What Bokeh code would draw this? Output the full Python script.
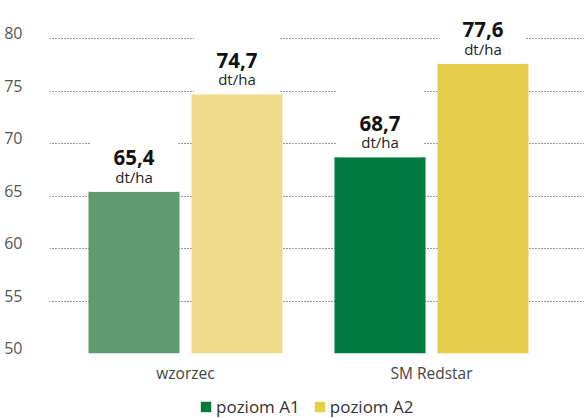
from bokeh.plotting import figure
from bokeh.layouts import column
from bokeh.models import (ColumnDataSource, Range1d, FixedTicker, Legend, LegendItem,
                          LinearAxis)
from bokeh.core.properties import value
from bokeh.embed import file_html
from bokeh.resources import INLINE

categories = ["wzorzec", "SM Redstar"]
series_names = ["poziom A1", "poziom A2"]
a1_values = [65.4, 68.7]
a2_values = [74.7, 77.6]
a1_colors = ["#5E9C6E", "#007B3F"]
a2_colors = ["#EDDB8A", "#E4CE4A"]
legend_colors = [a1_colors[1], a2_colors[1]]
y_ticks = [50, 55, 60, 65, 70, 75, 80]

FONT = "Open Sans"
cat_x = list(range(len(categories)))
offset = 0.2093
bar_w = 0.37
box_w = 0.35
box_h = 6.5
y_start, y_end = 50, 83.62
label_shift = 0.51  # tick labels sit just above their gridline

def fmt(v):
    return f"{v:.1f}".replace(".", ",")

p = figure(width=584, height=386, output_backend="svg", toolbar_location=None,
           x_range=Range1d(-0.5528, 1.622), y_range=Range1d(y_start, y_end),
           min_border_left=49, min_border_right=0, min_border_top=0,
           min_border_bottom=30)
p.outline_line_color = None
p.background_fill_color = "white"
p.border_fill_color = "white"
p.extra_y_ranges = {"lab": Range1d(y_start - label_shift, y_end - label_shift)}

# grid
p.xgrid.grid_line_color = None
p.ygrid.ticker = FixedTicker(ticks=y_ticks)
p.ygrid.grid_line_color = "#333333"
p.ygrid.grid_line_dash = "1 2"
p.ygrid.grid_line_width = 1

# axes
p.yaxis.visible = False
yax = LinearAxis(y_range_name="lab", ticker=FixedTicker(ticks=y_ticks))
yax.axis_line_color = None
yax.major_tick_line_color = None
yax.minor_tick_line_color = None
yax.major_tick_out = 0
yax.major_tick_in = 0
yax.major_label_standoff = 27
yax.major_label_text_font = FONT
yax.major_label_text_font_size = "16px"
yax.major_label_text_color = "#555555"
p.add_layout(yax, "left")

p.xaxis.ticker = FixedTicker(ticks=cat_x)
p.xaxis.major_label_overrides = {i: c for i, c in enumerate(categories)}
p.xaxis.axis_line_color = None
p.xaxis.major_tick_line_color = None
p.xaxis.minor_tick_line_color = None
p.xaxis.major_tick_out = 0
p.xaxis.major_tick_in = 0
p.xaxis.major_label_standoff = 8
p.xaxis.major_label_text_font = FONT
p.xaxis.major_label_text_font_size = "15.5px"
p.xaxis.major_label_text_color = "#444444"

for vals, cols, sign in [(a1_values, a1_colors, -1), (a2_values, a2_colors, 1)]:
    xs = [x + sign * offset for x in cat_x]
    src = ColumnDataSource(dict(
        x=xs, top=vals, color=cols,
        box_top=[v + box_h for v in vals],
        lab=[fmt(v) for v in vals], unit=["dt/ha"] * len(vals)))
    p.vbar(x="x", top="top", bottom=y_start, width=bar_w, fill_color="color",
           line_color=None, source=src)
    p.vbar(x="x", top="box_top", bottom="top", width=box_w, fill_color="white",
           line_color=None, source=src)
    p.text(x="x", y="top", text="lab", source=src, y_offset=-34,
           text_align="center", text_baseline="alphabetic",
           text_font=value(FONT), text_font_size="20.5px", text_font_style="bold",
           text_color="#111111")
    p.text(x="x", y="top", text="unit", source=src, y_offset=-15,
           text_align="center", text_baseline="alphabetic",
           text_font=value(FONT), text_font_size="15px", text_color="#222222")

# legend strip (frames of the column are aligned)
p2 = figure(width=584, height=32, output_backend="svg", toolbar_location=None,
            x_range=Range1d(0, 1), y_range=Range1d(0, 1),
            min_border_left=49, min_border_right=0, min_border_top=0,
            min_border_bottom=0)
p2.axis.visible = False
p2.grid.visible = False
p2.outline_line_color = None
items = []
for name, col, vals in zip(series_names, legend_colors, [a1_values, a2_values]):
    # hidden proxies; only their legend swatch is shown
    r = p2.vbar(x=cat_x, top=vals, width=0.1, fill_color=col, line_color=None,
                visible=False)
    items.append(LegendItem(label=name, renderers=[r]))
legend = Legend(items=items, orientation="horizontal", location=(150, 0))
legend.glyph_width = 13
legend.glyph_height = 13
legend.label_text_font = FONT
legend.label_text_font_size = "17px"
legend.label_text_color = "#333333"
legend.label_standoff = 4
legend.spacing = 13
legend.padding = 0
legend.margin = 0
legend.border_line_color = None
legend.background_fill_alpha = 0
legend.inactive_fill_alpha = 0
p2.add_layout(legend, "center")

layout = column(p, p2, spacing=0)
open("out.html", "w").write(file_html(layout, INLINE))
